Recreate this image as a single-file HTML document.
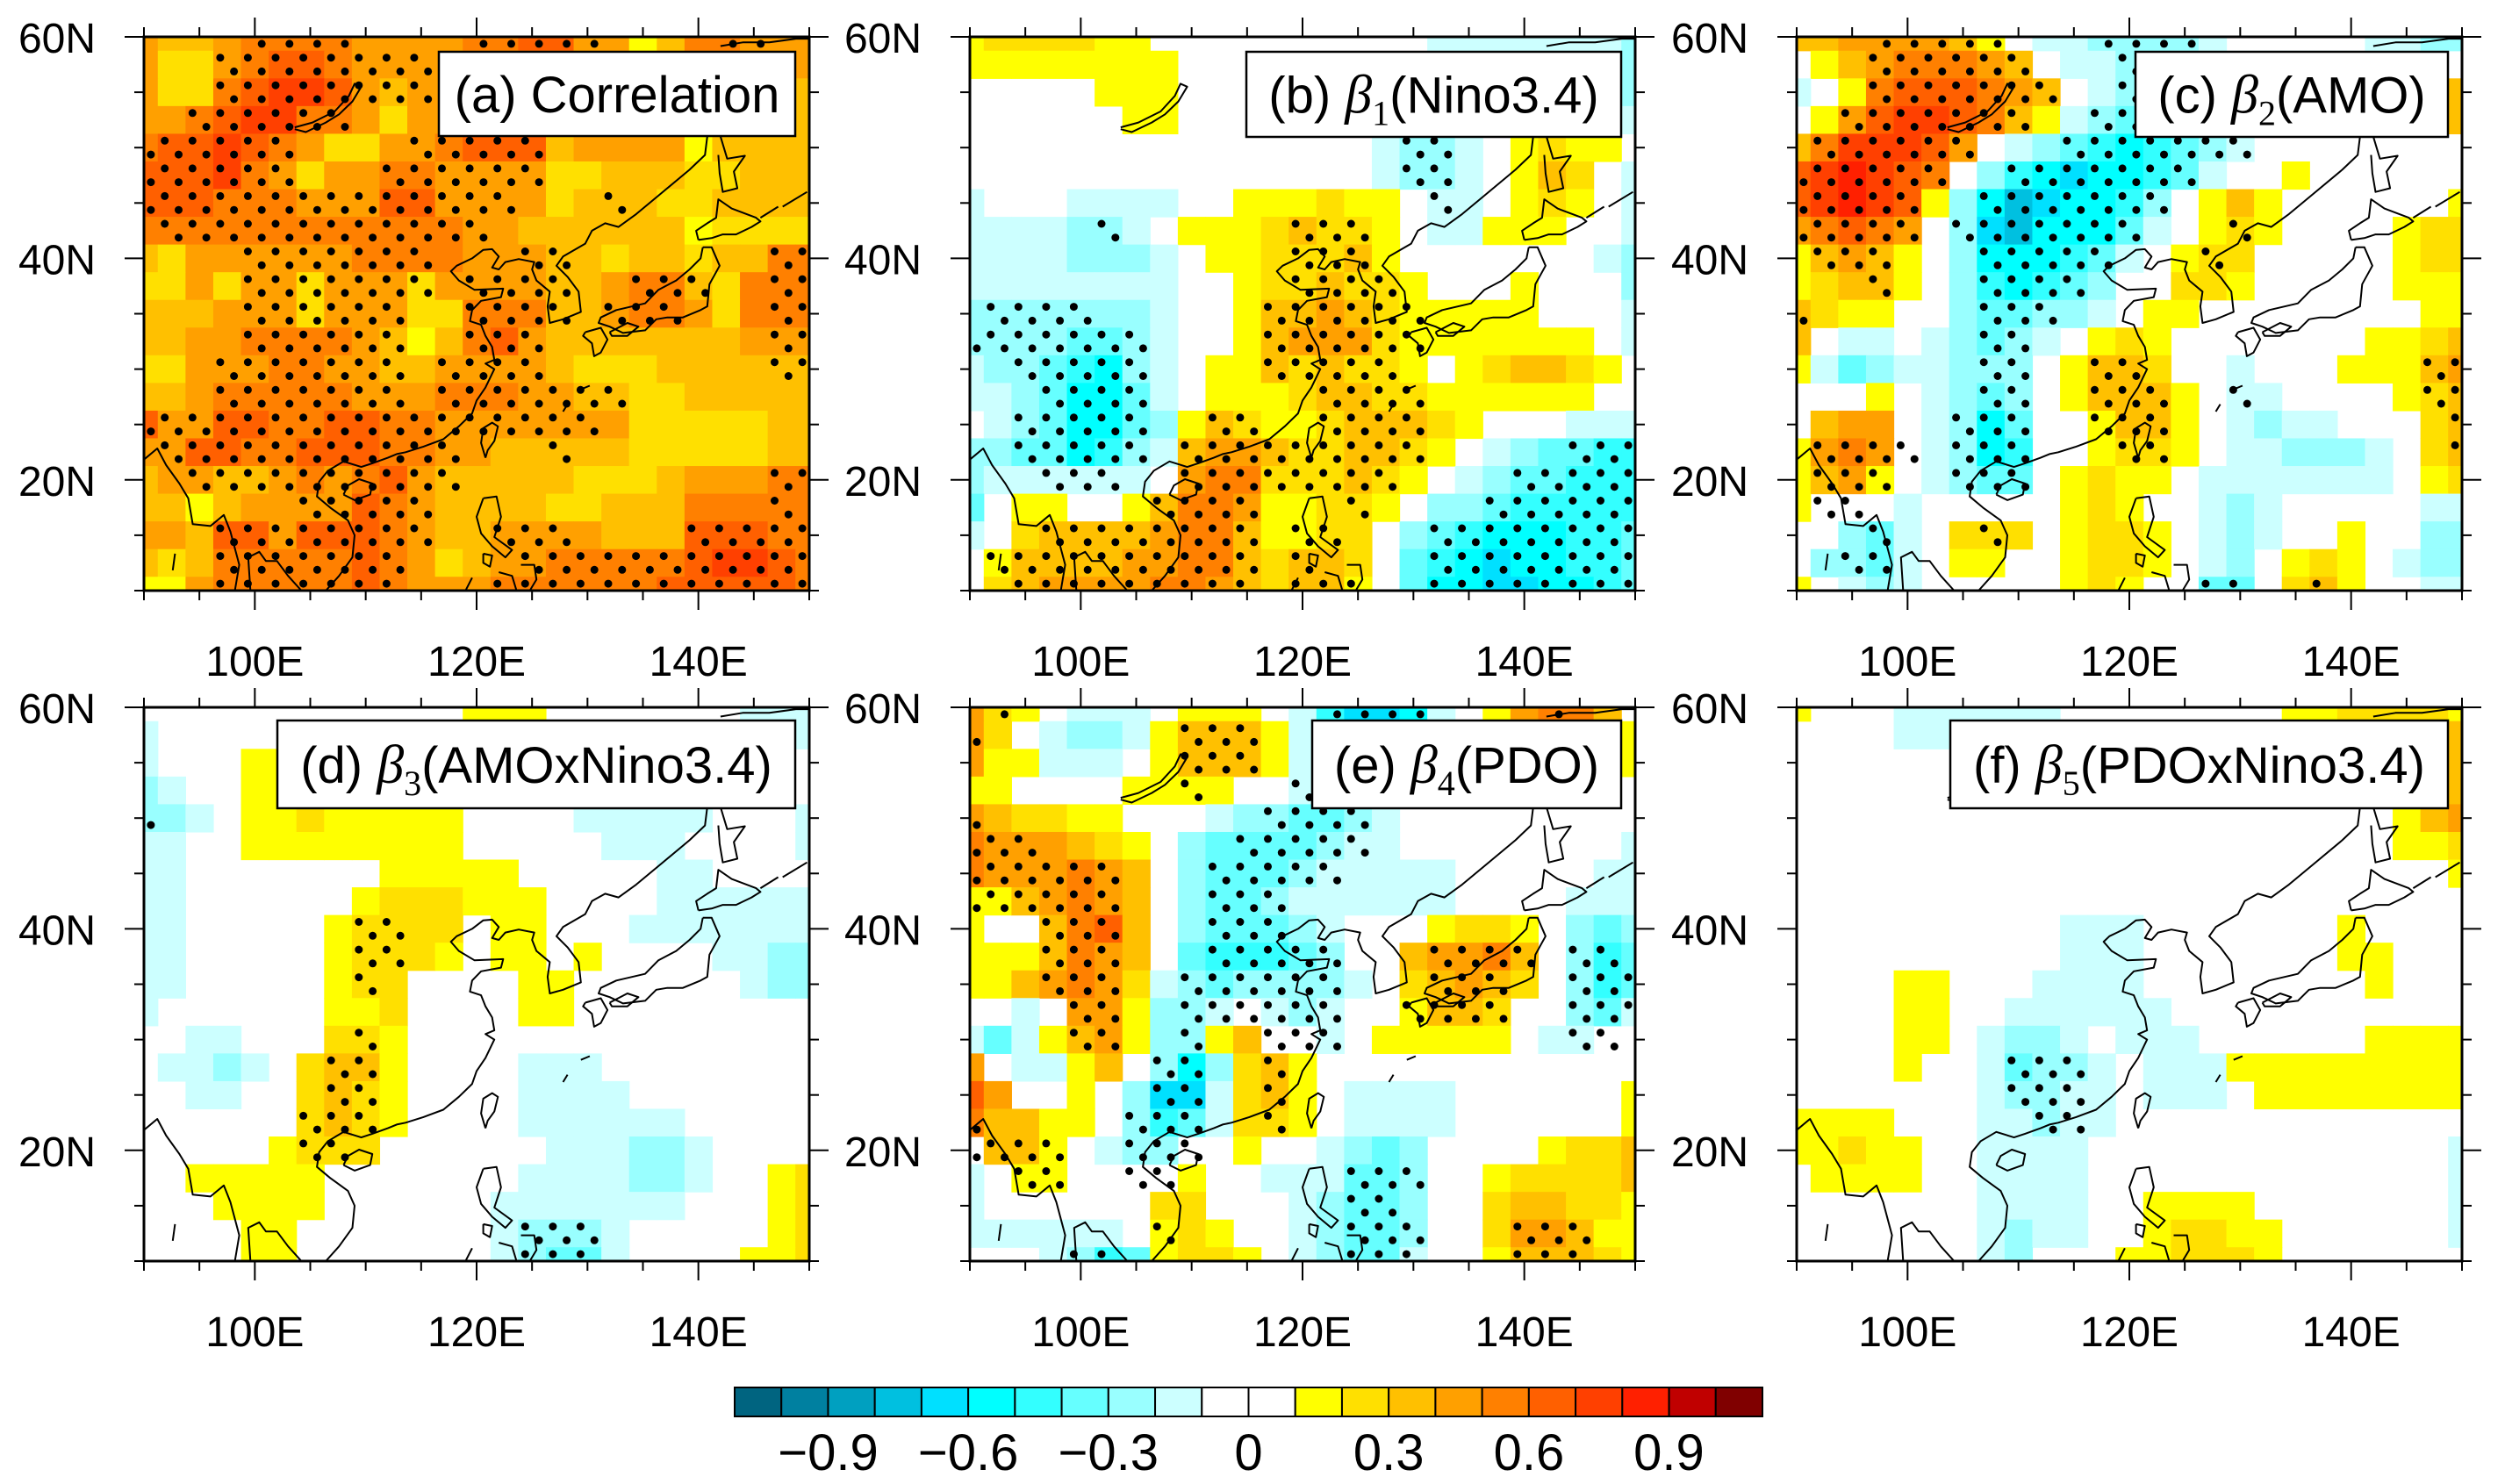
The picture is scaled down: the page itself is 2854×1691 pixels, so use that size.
<!DOCTYPE html>
<html><head><meta charset="utf-8"><title>Regression maps</title>
<style>html,body{margin:0;padding:0;background:#fff;}svg{display:block;font-family:"Liberation Sans",sans-serif;}</style>
</head><body>
<svg id="fig" width="2854" height="1691" viewBox="0 0 2854 1691" xmlns="http://www.w3.org/2000/svg"></svg>
<script>
// ---------------- data (level codes: 0 white, 1..9 positive bins, a..g negative bins) ----------------
const colorLevels = ["#006480","#0080a0","#00a0c0","#00c0e0","#00e0ff","#00ffff","#33ffff","#66ffff","#99ffff","#ccffff","#ffffff","#ffffff","#ffff00","#ffe000","#ffc000","#ffa000","#ff8000","#ff6000","#ff4000","#ff2000","#c00000","#800000"];
const cbarTicks = [-0.9,-0.6,-0.3,0,0.3,0.6,0.9];
const cbarLabels = ["\u22120.9","\u22120.6","\u22120.3","0","0.3","0.6","0.9"];
const lonTicks = [100,120,140];
const lonLabels = ["100E","120E","140E"];
const latTicks = [60,40,20];
const latLabels = ["60N","40N","20N"];

const gridA = ["4334555544445566441355444","4224566544444444444444444","4225677643444444444444443","4456775542444444444444443","5667654224456663444413333","6667542445544442233322333","6665554446644442333223333","5555555555554433333312222","3244444455554443323323355","2242442444244443345532555","3334442444225553345542555","3344555543135643333333444","2244455443344443222333333","3345555544455544332233333","6446655665544444442222233","4466556665544333332222233","3443345456433333222344455","3313444465433332233355555","4436646665433444433366655","3235555565423445555567765","1145555565444555555666665"];
const sigA = ["0000111100001111100001100","0001111111100000000000000","0001111111100000000000000","0011111100000000000000000","1111110000111110000000000","1111110001111110000000000","1111111111111100010000000","0111111111111000000000000","0000111111100011000000011","0000111111101111001110011","0000111111001111011100011","0000111111001110000000011","0001111111011110000000011","0001111111011111110000000","1111111111111111100000000","0111111111110001000000000","0011111111110000000000011","0000001111100000000000010","0001111111100111000011111","0001111111000011111111111","0001111111000111111111111"];

const gridB = ["1222211"+"0000000000"+"aaaaaaab","11111111"+"000000000"+"aaaaaaa"+"b","00000111"+"000000000"+"aaaaaaa"+"b","000000"+"11"+"0000000"+"aaaaaaaaaa","000000000000000"+"abba012110","000000000000000"+"abba01320a","a000aaaa00"+"1112110aa0"+"1210a","aaaabba011"+"1232210aa1"+"1100a","aaaabbba01"+"1222310000"+"000ab","aaaaaaaa00"+"1223221000"+"1000b","bbbbbbba00"+"1334321111"+"1000a","bbbbccba00"+"1344421111"+"1110a","abbcdeba01"+"1323221012"+"33210","aabceeca01"+"1123322111"+"11100","0abceecb13"+"2112333210"+"00aaa","bbccedba34"+"432233210a"+"bccdd","baaaaaa045"+"52223210ab"+"ccddd","c011001355"+"4112210bbc"+"ddddd","a023333455"+"311220bcde"+"eeddc","0133334455"+"323320cdef"+"eeddc","0234444554"+"323310ceef"+"feedc"];
const sigB = ["0000000000000000000000000","0000000000000000000000000","0000000000000000000000000","0000000000000000000000000","0000000000000000110000000","0000000000000000110000000","0000000000000000010000000","0000010000001110000000000","0000000000001110000000000","0000000000001111000000000","0111100000011111100000000","1111111000011111100000000","0011111000011111000000000","0001111000000111100000000","0011111001100111100000000","0011111011111111100000111","0001110011111111000011111","0000000111100010000111111","0001111111101100011111111","0111111111101000011111111","0011111111101110011111111"];

const gridC = ["334444310a"+"abbbba0000"+"0aabb","0134555430"+"aabbaaaaaa"+"aaaa0","a015666543"+"0abbaaaaaa"+"aaaa3","0146776531"+"abcbaaaaaa"+"aaaa3","35777640ab"+"cdedcba000"+"00000","6787650bde"+"feedca0010"+"00000","678761begf"+"eedb013100"+"00001","456540bfge"+"eeca012100"+"00122","134310beee"+"dca0122000"+"00122","123310bded"+"cb00221000"+"00111","321100bccb"+"ba01100000"+"00011","30aa0abcba"+"0121000000"+"01123","1acbaabbb0"+"133200a000"+"11134","00010abcb0"+"133310aa00"+"00123","03440abec0"+"013310abaa"+"00023","14540abed0"+"012210aabb"+"ba023","13410abcc0"+"12110aaaaa"+"aa012","1000a00000"+"12100aba00"+"000aa","00bca02220"+"12210aba00"+"100bb","0bbca01100"+"12210ab012"+"10abb","10aba00000"+"12100cc023"+"100aa"];
const sigC = ["0001111100011110000000000","0001111110001000000000000","0001111111001000000000000","0011111110011000000000000","0111111000111111100000000","1111110011111110000000000","1111100111111100000000000","1111101111111000100000000","0111000111110001000000000","0001000111100000000000000","1000000111000000000000000","0000000110000000000000000","0000000110011000000000011","0000000110011100100000011","0000001110011100000000001","0111101110001100000000001","0111001110000000000000000","0110000000000000000000000","0001000100000000000000000","0011000000000000000000000","0000000000000001100100000"];

const gridD = ["000000000000"+"111"+"0000000"+"aaa","a00000000000000000000000a","a000"+"11111111"+"0000000000000","ba00"+"11111111"+"0000000000000","bba0112111"+"110000aaaa"+"a000a","aa00111111"+"1100000aaa"+"0000a","aa00000001"+"111100000a"+"a0000","aa00000012"+"221110000a"+"aaaaa","aa00000122"+"22011000aa"+"aaaaa","aa00000122"+"2101101000"+"0aabb","aa00000122"+"0000110000"+"00abb","a000000112"+"0000110000"+"00000","00aa000221"+"0000000000"+"00000","0aaba02331"+"0000aaa000"+"00000","00aa002321"+"0000aaaa00"+"00000","0000002321"+"0000aaaaaa"+"00000","0000012220"+"00000aaabb"+"a0000","0011111000"+"0000aaaabb"+"a0012","0001111000"+"000aaaaaaa"+"00012","0000110000"+"000abbba00"+"00012","0000110000"+"000abcca00"+"00112"];
const sigD = ["0000000000000000000000000","0000000000000000000000000","0000000000000000000000000","0000000000000000000000000","1000000000000000000000000","0000000000000000000000000","0000000000000000000000000","0000000000000000000000000","0000000011000000000000000","0000000011000000000000000","0000000010000000000000000","0000000000000000000000000","0000000010000000000000000","0000000110000000000000000","0000000110000000000000000","0000001110000000000000000","0000001100000000000000000","0000000000000000000000000","0000000000000000000000000","0000000000000011100000000","0000000000000011100000000"];

const gridE = ["4210aaa011"+"10adffea01"+"45530","420abba133"+"31abbbaaa1"+"45431","411aaa0133"+"31abbaa001"+"23321","1100001111"+"00abbaa000"+"00000","432211000a"+"bbccba0000"+"00000","54443210bc"+"cccbaa0000"+"0000a","54445430bc"+"ccbaaaaa00"+"000aa","11345430bc"+"cbaaaaaa00"+"00aaa","10035630bc"+"ccba000122"+"10bcb","11135430cd"+"ddcb003445"+"30bdc","1134542abc"+"bbbba02343"+"20bdc","00a0441bba"+"0aba001332"+"00bca","aca1341bb1"+"300a011111"+"0aa00","40aa130beb"+"2310000000"+"00000","640010bffa"+"2310aaaa00"+"00001","533110bdca"+"2210aaaa00"+"00001","03310abb00"+"100abcb000"+"01223","a011000010"+"0aaaccb001"+"22223","a000000220"+"00abccb002"+"33221","aaaaaa0121"+"00abccb002"+"44311","000abdc122"+"10abcca001"+"33321"];
const sigE = ["0100000000000111100001000","1000000011100000000000000","0000000011100000000000000","0000000010001000000000000","1000000000011110000000000","1110000000111110000000000","1111110001111100000000000","1111110001110000000000000","0001110001110000000000000","0001110001111100011110110","0001110011111100011100111","0000110011111100111100111","0000110010011100000000110","0000000110010000000000000","0000000110010000000000000","1000001110010000000000000","1111001110000000000000000","0011001100000011100000000","0000000000000011000000000","0000000100000011100011100","0000110000000011100011100"];

const gridF = ["1000aaaaaa"+"0000000011"+"22221","0000aaaaaa"+"0000000000"+"00013","0000000000"+"0000000000"+"00013","0000000000"+"0000000000"+"00113","0000000000"+"0000000000"+"00134","0000000000"+"0000000000"+"00112","0000000000"+"0000000000"+"00001","0000000000"+"0000000000"+"00000","0000000000"+"aaa0000000"+"10000","0000000000"+"aaa0000000"+"11000","000011000a"+"aaa0000000"+"01000","00001100aa"+"aaaa000000"+"00000","0000110abb"+"a0aaa00000"+"01111","0000100acb"+"ba0aaa1111"+"11111","0000000abb"+"aa0aaa0111"+"11111","1111000aab"+"aa00000000"+"00000","1121100aaa"+"a000000000"+"0000a","0111100aaa"+"a000000000"+"0000a","0000000aaa"+"a001111000"+"0000a","0000000aba"+"a001221100"+"0000a","0000000ab0"+"0011222100"+"00000"];
const sigF = ["0","0","0","0","0","0","0","0","0","0","0","0","0","0000000011100000000000000","0000000011100000000000000","0000000001100000000000000","0","0","0","0","0"];

// coastline geometry (normalized reference units 30..1530 across the map frame)
const coastLines = [
 [[1530,35],[1500,35],[1440,45],[1380,45],[1330,55]],
 [[1300,300],[1295,350],[1260,390],[1190,460],[1140,510],[1100,545],[1070,535],[1040,555],[1025,590],[975,625],[960,650],[985,680],[1010,720],[1015,775],[975,795],[945,805],[940,760],[945,720],[915,690],[905,660],[910,640],[875,632],[845,640],[830,660],[815,655],[830,625],[815,605],[795,607],[770,630],[735,650],[722,665],[740,690],[775,715],[840,712],[835,735],[790,745],[770,770],[765,800],[790,810],[800,840],[815,870],[820,905],[800,915],[820,930],[800,980],[780,1015],[770,1050],[740,1085],[705,1120],[660,1140],[620,1155],[600,1160],[580,1170],[545,1185],[520,1195],[480,1180],[445,1205],[425,1235],[420,1275],[450,1305],[490,1340],[505,1380],[500,1440],[470,1490],[440,1530]],
 [[30,1175],[60,1145],[80,1190],[110,1240],[130,1280],[140,1350],[180,1355],[210,1325],[225,1370],[245,1460],[235,1530]],
 [[270,1530],[265,1440],[290,1425],[305,1450],[330,1450],[355,1490],[385,1530]],
 [[480,1270],[505,1285],[540,1270],[545,1240],[515,1228],[490,1245],[480,1270]],
 [[800,1170],[790,1130],[795,1090],[815,1075],[828,1085],[820,1125],[805,1150],[800,1170]],
 [[370,280],[395,288],[440,262],[470,240],[500,205],[520,165],[505,157],[492,190],[460,232],[410,262],[370,275]],
 [[1330,300],[1345,360],[1385,352],[1360,395],[1368,440],[1335,450],[1328,400],[1325,350]],
 [[1280,580],[1275,555],[1300,535],[1320,520],[1325,470],[1355,495],[1410,520],[1420,530],[1400,545],[1365,565],[1335,565],[1310,575],[1280,580]],
 [[1290,600],[1310,600],[1328,650],[1305,700],[1300,760],[1285,770],[1245,790],[1210,790],[1185,795],[1160,825],[1110,832],[1080,815],[1055,805],[1060,790],[1095,770],[1160,752],[1190,715],[1230,690],[1260,660],[1285,630],[1290,600]],
 [[1025,830],[1060,818],[1075,850],[1060,885],[1045,895],[1040,860],[1020,840],[1025,830]],
 [[1080,830],[1120,805],[1145,815],[1120,840],[1085,840],[1080,830]],
 [[1420,520],[1460,490]],[[1470,490],[1525,450]],
 [[1015,985],[1035,975]],[[975,1045],[985,1025]],
 [[795,1280],[825,1275],[835,1330],[820,1385],[860,1420],[845,1440],[815,1410],[790,1375],[780,1330],[795,1280]],
 [[795,1430],[815,1435],[810,1465],[795,1455],[795,1430]],
 [[880,1460],[910,1460],[915,1500],[900,1530]],[[830,1480],[860,1490],[870,1530]],
 [[755,1530],[770,1495]],[[100,1430],[95,1475]]
];

// ---------------- layout ----------------
const NS = "http://www.w3.org/2000/svg";
const svg = document.getElementById('fig');
const PW = 758, PH = 631, NC = 25, NR = 21;
const panels = [
 {key:'a', x:164, y:42, grid:gridA, sig:sigA, pre:'(a) Correlation', beta:'', sub:'', post:'', box:[500,59,406,96]},
 {key:'b', x:1105, y:42, grid:gridB, sig:sigB, pre:'(b) ', beta:'\u03b2', sub:'1', post:'(Nino3.4)', box:[1420,59,427,97]},
 {key:'c', x:2047, y:42, grid:gridC, sig:sigC, pre:'(c) ', beta:'\u03b2', sub:'2', post:'(AMO)', box:[2433,59,356,97]},
 {key:'d', x:164, y:806, grid:gridD, sig:sigD, pre:'(d) ', beta:'\u03b2', sub:'3', post:'(AMOxNino3.4)', box:[316,821,590,100]},
 {key:'e', x:1105, y:806, grid:gridE, sig:sigE, pre:'(e) ', beta:'\u03b2', sub:'4', post:'(PDO)', box:[1495,821,352,100]},
 {key:'f', x:2047, y:806, grid:gridF, sig:sigF, pre:'(f) ', beta:'\u03b2', sub:'5', post:'(PDOxNino3.4)', box:[2222,821,567,100]}
];

function mk(tag, attrs, parent){
  const e = document.createElementNS(NS, tag);
  for (const k in attrs) e.setAttribute(k, attrs[k]);
  (parent||svg).appendChild(e);
  return e;
}
function codeValue(ch){
  if (ch === '0' || ch === undefined) return 0;
  if (ch >= '1' && ch <= '9') return (+ch)/10 + 0.05;
  return -((ch.charCodeAt(0) - 96)/10 + 0.05);
}
function levelColor(v){
  let i = Math.floor(v*10 + 1e-9) + 11;
  i = Math.max(0, Math.min(21, i));
  return colorLevels[i];
}

panels.forEach(p => {
  const xScale = lon => p.x + (lon - 90)/60*PW;
  const yScale = lat => p.y + (60 - lat)/50*PH;
  const colX = c => p.x + Math.max(0, Math.min(1, c/(NC-1)))*PW;
  const rowY = r => p.y + Math.max(0, Math.min(1, r/(NR-1)))*PH;

  const g = mk('g', {});
  
  

  const cp = mk('clipPath', {id:'clip-' + p.key}, g);
  mk('rect', {x:p.x, y:p.y, width:PW, height:PH}, cp);

  const cells = mk('g', {}, g);
  
  
  for (let r = 0; r < NR; r++) {
    const row = p.grid[r] || '';
    for (let c = 0; c < NC; c++) {
      const v = codeValue(row[c]);
      const col = levelColor(v);
      if (col === '#ffffff') continue;
      const x1 = colX(c-0.5), x2 = colX(c+0.5), y1 = rowY(r-0.5), y2 = rowY(r+0.5);
      const rc = mk('rect', {x:x1.toFixed(2), y:y1.toFixed(2), width:(x2-x1+0.6).toFixed(2), height:(y2-y1+0.6).toFixed(2), fill:col}, cells);
      
      
    }
  }

  const cg = mk('g', {'clip-path':'url(#clip-' + p.key + ')', fill:'none', stroke:'#000', 'stroke-width':'2', 'stroke-linejoin':'round'}, g);
  
  
  coastLines.forEach(line => {
    const pts = line.map(q => (p.x + (q[0]-30)/1500*PW).toFixed(1) + ',' + (p.y + (q[1]-30)/1500*PH).toFixed(1)).join(' ');
    const pl = mk('polyline', {points:pts}, cg);
    
    
  });

  const dg = mk('g', {'clip-path':'url(#clip-' + p.key + ')', fill:'#000'}, g);
  
  
  for (let r = 0; r < NR; r++) {
    const row = p.sig[r] || '';
    for (let c = 0; c < NC; c++) {
      if (row[c] !== '1') continue;
      [[-0.25,-0.25],[0.25,0.25]].forEach(o => {
        const cx = p.x + (c+o[0])/(NC-1)*PW, cy = p.y + (r+o[1])/(NR-1)*PH;
        const d = mk('circle', {cx:cx.toFixed(1), cy:cy.toFixed(1), r:'4.5'}, dg);
        
        
      });
    }
  }

  const fr = mk('rect', {x:p.x, y:p.y, width:PW, height:PH, fill:'none', stroke:'#000', 'stroke-width':'3'}, g);
  
  

  const tg = mk('g', {stroke:'#000', 'stroke-width':'2'}, g);
  
  
  for (let lon = 90; lon <= 150; lon += 5) {
    const x = xScale(lon), L = lonTicks.includes(lon) ? 22 : 11;
    mk('line', {x1:x, y1:p.y, x2:x, y2:p.y-L}, tg);
    mk('line', {x1:x, y1:p.y+PH, x2:x, y2:p.y+PH+L}, tg);
  }
  for (let lat = 10; lat <= 60; lat += 5) {
    const y = yScale(lat), L = (lat % 20 === 0) ? 22 : 11;
    mk('line', {x1:p.x, y1:y, x2:p.x-L, y2:y}, tg);
    mk('line', {x1:p.x+PW, y1:y, x2:p.x+PW+L, y2:y}, tg);
  }

  lonTicks.forEach((lon, i) => {
    const t = mk('text', {x:xScale(lon), y:p.y+PH+97, 'font-size':'48', 'text-anchor':'middle'}, g);
    t.textContent = lonLabels[i];
    
    
  });
  latTicks.forEach((lat, i) => {
    const t = mk('text', {x:p.x-55, y:yScale(lat)+18, 'font-size':'48', 'text-anchor':'end'}, g);
    t.textContent = latLabels[i];
    
    
  });

  const b = p.box;
  const tb = mk('rect', {x:b[0], y:b[1], width:b[2], height:b[3], fill:'#fff', stroke:'#000', 'stroke-width':'2.5'}, g);
  
  
  const tt = mk('text', {x:b[0]+b[2]/2, y:b[1]+b[3]/2+21, 'font-size':'58', 'text-anchor':'middle'}, g);
  
  
  const s1 = mk('tspan', {}, tt); s1.textContent = p.pre;
  if (p.beta) {
    const s2 = mk('tspan', {'font-family':'Liberation Serif, serif', 'font-style':'italic', 'font-size':'62'}, tt); s2.textContent = p.beta;
    const s3 = mk('tspan', {'font-family':'Liberation Serif, serif', 'font-size':'40', dy:'14'}, tt); s3.textContent = p.sub;
    const s4 = mk('tspan', {dy:'-14'}, tt); s4.textContent = p.post;
  }
});

// ---------------- colorbar ----------------
const cbX = 837, cbY = 1581, cbW = 1171, cbH = 33;
const boxW = cbW / colorLevels.length;
const cb = mk('g', {});


colorLevels.forEach((col, i) => {
  const r = mk('rect', {x:(cbX + i*boxW).toFixed(2), y:cbY, width:boxW.toFixed(2), height:cbH, fill:col, stroke:'#000', 'stroke-width':'2'}, cb);
  
  
});
cbarTicks.forEach((v, i) => {
  const x = cbX + (v*10 + 11)*boxW;
  const t = mk('text', {x:x.toFixed(1), y:1675, 'font-size':'58', 'text-anchor':'middle'}, cb);
  t.textContent = cbarLabels[i];
  
  
});
</script>
</body></html>
